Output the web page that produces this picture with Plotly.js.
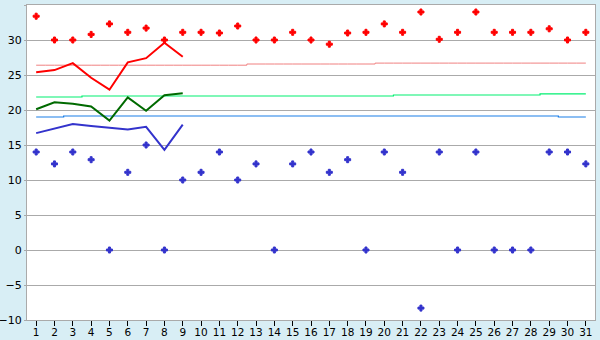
<!DOCTYPE html>
<html>
<head>
<meta charset="utf-8">
<script src="https://cdn.plot.ly/plotly-3.0.1.min.js"></script>
<style>html,body{margin:0;padding:0;background:#d8eef5;}#chart{width:600px;height:340px;}</style>
</head>
<body>
<div id="chart"></div>
<script>
const days = Array.from({length: 31}, (_, i) => i + 1);
const tmax = [33.4, 30, 30, 30.8, 32.3, 31.1, 31.7, 30, 31.1, 31.1, 31.0, 32.0, 30, 30, 31.1, 30, 29.4, 31.0, 31.1, 32.3, 31.1, 34.0, 30.1, 31.1, 34.0, 31.1, 31.1, 31.1, 31.6, 30, 31.1];
const tmin = [14.0, 12.3, 14.0, 12.9, 0, 11.1, 15.0, 0, 10.0, 11.1, 14.0, 10.0, 12.3, 0, 12.3, 14.0, 11.1, 12.9, 0, 14.0, 11.1, -8.3, 14.0, 0, 14.0, 0, 0, 0, 14.0, 14.0, 12.3];
const lineDays = [1, 2, 3, 4, 5, 6, 7, 8, 9];
const dayMax = [25.4, 25.7, 26.7, 24.6, 22.9, 26.8, 27.4, 29.6, 27.6];
const dayMean = [20.1, 21.1, 20.9, 20.5, 18.5, 21.8, 19.9, 22.1, 22.4];
const dayMin = [16.7, 17.3, 18.0, 17.7, 17.5, 17.2, 17.6, 14.3, 17.9];
const normMax = [26.4,26.4,26.4,26.4,26.4,26.4,26.4,26.4,26.4,26.4,26.4,26.4,26.57,26.57,26.57,26.57,26.57,26.57,26.57,26.7,26.7,26.7,26.7,26.7,26.7,26.7,26.7,26.7,26.7,26.7,26.7];
const normMean = [21.86,21.86,21.86,22.0,22.0,22.0,22.0,22.0,22.0,22.0,22.0,22.0,22.0,22.0,22.0,22.0,22.0,22.0,22.0,22.0,22.14,22.14,22.14,22.14,22.14,22.14,22.14,22.14,22.29,22.29,22.29];
const normMin = [19.0,19.0,19.14,19.14,19.14,19.14,19.14,19.14,19.14,19.14,19.14,19.14,19.14,19.14,19.14,19.14,19.14,19.14,19.14,19.14,19.14,19.14,19.14,19.14,19.14,19.14,19.14,19.14,19.14,19.0,19.0];
const yTicks = [-10, -5, 0, 5, 10, 15, 20, 25, 30, 35];

const traces = [
  {x: days, y: normMax, mode: 'lines', line: {color: '#f08080', width: 1, shape: 'hvh'}, hoverinfo: 'skip'},
  {x: days, y: normMean, mode: 'lines', line: {color: '#00f070', width: 1.2, shape: 'hvh'}, hoverinfo: 'skip'},
  {x: days, y: normMin, mode: 'lines', line: {color: '#1a7ee8', width: 1.2, shape: 'hvh'}, hoverinfo: 'skip'},
  {x: lineDays, y: dayMax, mode: 'lines', line: {color: '#ff0000', width: 2}},
  {x: lineDays, y: dayMean, mode: 'lines', line: {color: '#006a00', width: 2}},
  {x: lineDays, y: dayMin, mode: 'lines', line: {color: '#3333cc', width: 2}},
  {x: days, y: tmax, mode: 'markers', marker: {symbol: 'cross', size: 5, color: '#ff0000', line: {width: 1, color: '#ff0000'}}},
  {x: days, y: tmin, mode: 'markers', marker: {symbol: 'cross', size: 5, color: '#3333cc', line: {width: 1, color: '#3333cc'}}}
];

const layout = {
  width: 600, height: 340,
  margin: {l: 27, r: 5, t: 5, b: 20, pad: 0},
  paper_bgcolor: '#d8eef5',
  plot_bgcolor: '#ffffff',
  showlegend: false,
  font: {family: 'DejaVu Sans, Verdana, sans-serif', size: 11, color: '#000000'},
  xaxis: {
    range: [0.5, 31.5], tickvals: days, ticktext: days.map(String),
    showgrid: false, zeroline: false,
    showline: true, mirror: true, linecolor: '#aaaaaa', linewidth: 1,
    ticks: 'outside', ticklen: 5, tickcolor: '#000000', tickwidth: 1,
    ticklabelstandoff: -3,
    tickfont: {size: 10.5},
    fixedrange: true
  },
  yaxis: {
    range: [-10, 35], tickvals: yTicks, ticktext: yTicks.map(v => v < 0 ? '\u2212' + Math.abs(v) : String(v)),
    showgrid: true, gridcolor: '#aaaaaa', gridwidth: 1, zeroline: false,
    showline: true, mirror: true, linecolor: '#aaaaaa', linewidth: 1,
    ticks: 'outside', ticklen: 2, tickcolor: '#aaaaaa',
    fixedrange: true
  }
};

Plotly.newPlot('chart', traces, layout, {displayModeBar: false, staticPlot: true});
</script>
</body>
</html>
